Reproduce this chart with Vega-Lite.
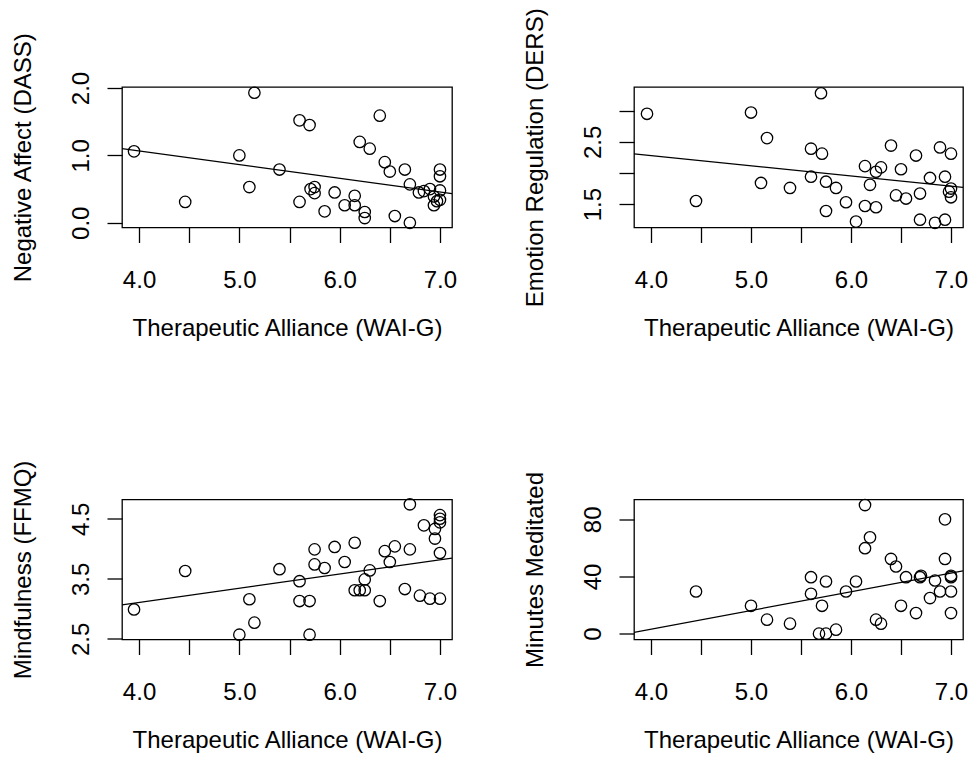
{
  "$schema": "https://vega.github.io/schema/vega-lite/v6.json",
  "background": "white",
  "padding": {"left": 10, "top": 7, "right": 5, "bottom": 5},
  "bounds": "flush",
  "columns": 2,
  "spacing": {"row": 271.5, "column": 182},
  "config": {
    "font": "Liberation Sans",
    "view": {"stroke": "black", "strokeWidth": 1.3, "fill": "white"},
    "axis": {
      "domain": false, "grid": false, "ticks": true, "tickSize": 15, "tickColor": "black", "tickWidth": 1.3,
      "labelFontSize": 24, "labelColor": "black", "labelFont": "Liberation Sans",
      "titleFontSize": 24, "titleFontWeight": "normal", "titleColor": "black", "titleFont": "Liberation Sans",
      "labelOverlap": false, "labelFlush": false
    },
    "axisX": {"labelPadding": 25.5, "titlePadding": 24, "labelBaseline": "top"},
    "axisY": {"labelAngle": -90, "labelPadding": 14, "titlePadding": 34, "labelAlign": "center", "labelBaseline": "bottom"}
  },
  "datasets": {
    "points": [
      {"measure": "DASS", "wai": 3.95, "score": 1.06},
      {"measure": "DASS", "wai": 4.46, "score": 0.31},
      {"measure": "DASS", "wai": 5.00, "score": 1.00},
      {"measure": "DASS", "wai": 5.15, "score": 1.93},
      {"measure": "DASS", "wai": 5.10, "score": 0.53},
      {"measure": "DASS", "wai": 5.40, "score": 0.79},
      {"measure": "DASS", "wai": 5.60, "score": 1.52},
      {"measure": "DASS", "wai": 5.70, "score": 1.45},
      {"measure": "DASS", "wai": 5.60, "score": 0.31},
      {"measure": "DASS", "wai": 5.71, "score": 0.50},
      {"measure": "DASS", "wai": 5.75, "score": 0.53},
      {"measure": "DASS", "wai": 5.75, "score": 0.44},
      {"measure": "DASS", "wai": 5.85, "score": 0.17},
      {"measure": "DASS", "wai": 5.95, "score": 0.45},
      {"measure": "DASS", "wai": 6.05, "score": 0.26},
      {"measure": "DASS", "wai": 6.15, "score": 0.40},
      {"measure": "DASS", "wai": 6.15, "score": 0.26},
      {"measure": "DASS", "wai": 6.20, "score": 1.20},
      {"measure": "DASS", "wai": 6.25, "score": 0.16},
      {"measure": "DASS", "wai": 6.25, "score": 0.07},
      {"measure": "DASS", "wai": 6.30, "score": 1.10},
      {"measure": "DASS", "wai": 6.40, "score": 1.59},
      {"measure": "DASS", "wai": 6.45, "score": 0.90},
      {"measure": "DASS", "wai": 6.50, "score": 0.76},
      {"measure": "DASS", "wai": 6.55, "score": 0.10},
      {"measure": "DASS", "wai": 6.65, "score": 0.79},
      {"measure": "DASS", "wai": 6.70, "score": 0.57},
      {"measure": "DASS", "wai": 6.70, "score": 0.00},
      {"measure": "DASS", "wai": 6.79, "score": 0.45},
      {"measure": "DASS", "wai": 6.84, "score": 0.47},
      {"measure": "DASS", "wai": 6.90, "score": 0.50},
      {"measure": "DASS", "wai": 6.94, "score": 0.39},
      {"measure": "DASS", "wai": 6.94, "score": 0.26},
      {"measure": "DASS", "wai": 7.00, "score": 0.79},
      {"measure": "DASS", "wai": 7.00, "score": 0.69},
      {"measure": "DASS", "wai": 7.00, "score": 0.48},
      {"measure": "DASS", "wai": 7.00, "score": 0.34},
      {"measure": "DASS", "wai": 6.97, "score": 0.32},
      {"measure": "DERS", "wai": 3.96, "score": 2.95},
      {"measure": "DERS", "wai": 4.45, "score": 1.55},
      {"measure": "DERS", "wai": 5.00, "score": 2.97},
      {"measure": "DERS", "wai": 5.16, "score": 2.56},
      {"measure": "DERS", "wai": 5.10, "score": 1.84},
      {"measure": "DERS", "wai": 5.39, "score": 1.76},
      {"measure": "DERS", "wai": 5.70, "score": 3.28},
      {"measure": "DERS", "wai": 5.60, "score": 2.39},
      {"measure": "DERS", "wai": 5.71, "score": 2.31},
      {"measure": "DERS", "wai": 5.60, "score": 1.94},
      {"measure": "DERS", "wai": 5.75, "score": 1.86},
      {"measure": "DERS", "wai": 5.75, "score": 1.39},
      {"measure": "DERS", "wai": 5.85, "score": 1.76},
      {"measure": "DERS", "wai": 5.95, "score": 1.53},
      {"measure": "DERS", "wai": 6.05, "score": 1.22},
      {"measure": "DERS", "wai": 6.14, "score": 2.11},
      {"measure": "DERS", "wai": 6.14, "score": 1.47},
      {"measure": "DERS", "wai": 6.19, "score": 1.81},
      {"measure": "DERS", "wai": 6.25, "score": 2.02},
      {"measure": "DERS", "wai": 6.25, "score": 1.45},
      {"measure": "DERS", "wai": 6.30, "score": 2.09},
      {"measure": "DERS", "wai": 6.40, "score": 2.44},
      {"measure": "DERS", "wai": 6.45, "score": 1.64},
      {"measure": "DERS", "wai": 6.50, "score": 2.06},
      {"measure": "DERS", "wai": 6.55, "score": 1.59},
      {"measure": "DERS", "wai": 6.65, "score": 2.28},
      {"measure": "DERS", "wai": 6.69, "score": 1.67},
      {"measure": "DERS", "wai": 6.69, "score": 1.25},
      {"measure": "DERS", "wai": 6.79, "score": 1.92},
      {"measure": "DERS", "wai": 6.84, "score": 1.20},
      {"measure": "DERS", "wai": 6.89, "score": 2.41},
      {"measure": "DERS", "wai": 6.94, "score": 1.94},
      {"measure": "DERS", "wai": 6.94, "score": 1.25},
      {"measure": "DERS", "wai": 7.00, "score": 2.31},
      {"measure": "DERS", "wai": 7.00, "score": 1.75},
      {"measure": "DERS", "wai": 7.00, "score": 1.61},
      {"measure": "DERS", "wai": 6.98, "score": 1.70},
      {"measure": "FFMQ", "wai": 3.95, "score": 2.99},
      {"measure": "FFMQ", "wai": 4.46, "score": 3.63},
      {"measure": "FFMQ", "wai": 5.00, "score": 2.57},
      {"measure": "FFMQ", "wai": 5.10, "score": 3.16},
      {"measure": "FFMQ", "wai": 5.15, "score": 2.77},
      {"measure": "FFMQ", "wai": 5.40, "score": 3.66},
      {"measure": "FFMQ", "wai": 5.60, "score": 3.46},
      {"measure": "FFMQ", "wai": 5.60, "score": 3.13},
      {"measure": "FFMQ", "wai": 5.70, "score": 3.13},
      {"measure": "FFMQ", "wai": 5.70, "score": 2.57},
      {"measure": "FFMQ", "wai": 5.75, "score": 3.99},
      {"measure": "FFMQ", "wai": 5.75, "score": 3.74},
      {"measure": "FFMQ", "wai": 5.85, "score": 3.68},
      {"measure": "FFMQ", "wai": 5.95, "score": 4.03},
      {"measure": "FFMQ", "wai": 6.05, "score": 3.78},
      {"measure": "FFMQ", "wai": 6.15, "score": 4.10},
      {"measure": "FFMQ", "wai": 6.15, "score": 3.31},
      {"measure": "FFMQ", "wai": 6.20, "score": 3.31},
      {"measure": "FFMQ", "wai": 6.25, "score": 3.31},
      {"measure": "FFMQ", "wai": 6.25, "score": 3.49},
      {"measure": "FFMQ", "wai": 6.30, "score": 3.64},
      {"measure": "FFMQ", "wai": 6.40, "score": 3.13},
      {"measure": "FFMQ", "wai": 6.45, "score": 3.96},
      {"measure": "FFMQ", "wai": 6.50, "score": 3.78},
      {"measure": "FFMQ", "wai": 6.55, "score": 4.04},
      {"measure": "FFMQ", "wai": 6.65, "score": 3.33},
      {"measure": "FFMQ", "wai": 6.70, "score": 3.99},
      {"measure": "FFMQ", "wai": 6.70, "score": 4.74},
      {"measure": "FFMQ", "wai": 6.80, "score": 3.22},
      {"measure": "FFMQ", "wai": 6.84, "score": 4.39},
      {"measure": "FFMQ", "wai": 6.90, "score": 3.17},
      {"measure": "FFMQ", "wai": 6.95, "score": 4.17},
      {"measure": "FFMQ", "wai": 6.95, "score": 4.33},
      {"measure": "FFMQ", "wai": 7.00, "score": 3.17},
      {"measure": "FFMQ", "wai": 7.00, "score": 3.93},
      {"measure": "FFMQ", "wai": 7.00, "score": 4.44},
      {"measure": "FFMQ", "wai": 7.00, "score": 4.56},
      {"measure": "FFMQ", "wai": 7.00, "score": 4.50},
      {"measure": "MIN", "wai": 4.45, "score": 29.5},
      {"measure": "MIN", "wai": 5.00, "score": 19.5},
      {"measure": "MIN", "wai": 5.16, "score": 9.8},
      {"measure": "MIN", "wai": 5.39, "score": 7.0},
      {"measure": "MIN", "wai": 5.60, "score": 39.5},
      {"measure": "MIN", "wai": 5.60, "score": 27.9},
      {"measure": "MIN", "wai": 5.71, "score": 19.5},
      {"measure": "MIN", "wai": 5.75, "score": 36.5},
      {"measure": "MIN", "wai": 5.68, "score": 0},
      {"measure": "MIN", "wai": 5.75, "score": 0},
      {"measure": "MIN", "wai": 5.85, "score": 2.8},
      {"measure": "MIN", "wai": 5.95, "score": 29.5},
      {"measure": "MIN", "wai": 6.05, "score": 36.5},
      {"measure": "MIN", "wai": 6.14, "score": 90},
      {"measure": "MIN", "wai": 6.14, "score": 59.8},
      {"measure": "MIN", "wai": 6.19, "score": 67.4},
      {"measure": "MIN", "wai": 6.25, "score": 9.8},
      {"measure": "MIN", "wai": 6.30, "score": 7.0},
      {"measure": "MIN", "wai": 6.40, "score": 52.3},
      {"measure": "MIN", "wai": 6.45, "score": 47.0},
      {"measure": "MIN", "wai": 6.50, "score": 19.5},
      {"measure": "MIN", "wai": 6.55, "score": 39.5},
      {"measure": "MIN", "wai": 6.65, "score": 14.4},
      {"measure": "MIN", "wai": 6.69, "score": 39.5},
      {"measure": "MIN", "wai": 6.70, "score": 40.5},
      {"measure": "MIN", "wai": 6.79, "score": 24.9},
      {"measure": "MIN", "wai": 6.84, "score": 37.2},
      {"measure": "MIN", "wai": 6.89, "score": 29.5},
      {"measure": "MIN", "wai": 6.94, "score": 80},
      {"measure": "MIN", "wai": 6.94, "score": 52.3},
      {"measure": "MIN", "wai": 7.00, "score": 39.5},
      {"measure": "MIN", "wai": 7.00, "score": 40.5},
      {"measure": "MIN", "wai": 7.00, "score": 29.5},
      {"measure": "MIN", "wai": 7.00, "score": 14.4}
    ],
    "fits": [
      {"measure": "DASS", "wai": 3.83, "score": 1.10},
      {"measure": "DASS", "wai": 7.12, "score": 0.434},
      {"measure": "DERS", "wai": 3.83, "score": 2.307},
      {"measure": "DERS", "wai": 7.12, "score": 1.770},
      {"measure": "FFMQ", "wai": 3.83, "score": 3.067},
      {"measure": "FFMQ", "wai": 7.12, "score": 3.843},
      {"measure": "MIN", "wai": 3.83, "score": 0.9},
      {"measure": "MIN", "wai": 7.12, "score": 43.9}
    ]
  },
  "concat": [
    {
      "width": 330, "height": 140.5,
      "layer": [
        {"data": {"name": "fits"}, "transform": [{"filter": "datum.measure == 'DASS'"}],
         "mark": {"type": "line", "color": "black", "strokeWidth": 1.2, "clip": true},
         "encoding": {"x": {"field": "wai", "type": "quantitative"}, "y": {"field": "score", "type": "quantitative"}}},
        {"data": {"name": "points"}, "transform": [{"filter": "datum.measure == 'DASS'"}],
         "mark": {"type": "point", "shape": "circle", "filled": false, "color": "black", "size": 130, "strokeWidth": 1.3, "opacity": 1},
         "encoding": {
           "x": {"field": "wai", "type": "quantitative", "title": "Therapeutic Alliance (WAI-G)",
                 "scale": {"domain": [3.83, 7.12], "nice": false, "zero": false},
                 "axis": {"values": [4, 4.5, 5, 5.5, 6, 6.5, 7], "labelExpr": "datum.value % 1 == 0 ? format(datum.value, '.1f') : ''"}},
           "y": {"field": "score", "type": "quantitative", "title": "Negative Affect (DASS)",
                 "scale": {"domain": [-0.07, 2.015], "nice": false, "zero": false},
                 "axis": {"values": [0, 0.5, 1, 1.5, 2], "labelExpr": "datum.value % 1 == 0 ? format(datum.value, '.1f') : ''"}}
         }}
      ]
    },
    {
      "width": 329, "height": 140.5,
      "layer": [
        {"data": {"name": "fits"}, "transform": [{"filter": "datum.measure == 'DERS'"}],
         "mark": {"type": "line", "color": "black", "strokeWidth": 1.2, "clip": true},
         "encoding": {"x": {"field": "wai", "type": "quantitative"}, "y": {"field": "score", "type": "quantitative"}}},
        {"data": {"name": "points"}, "transform": [{"filter": "datum.measure == 'DERS'"}],
         "mark": {"type": "point", "shape": "circle", "filled": false, "color": "black", "size": 130, "strokeWidth": 1.3, "opacity": 1},
         "encoding": {
           "x": {"field": "wai", "type": "quantitative", "title": "Therapeutic Alliance (WAI-G)",
                 "scale": {"domain": [3.83, 7.12], "nice": false, "zero": false},
                 "axis": {"values": [4, 4.5, 5, 5.5, 6, 6.5, 7], "labelExpr": "datum.value % 1 == 0 ? format(datum.value, '.1f') : ''"}},
           "y": {"field": "score", "type": "quantitative", "title": "Emotion Regulation (DERS)",
                 "scale": {"domain": [1.125, 3.38], "nice": false, "zero": false},
                 "axis": {"values": [1.5, 2, 2.5, 3], "labelExpr": "(datum.value == 1.5 || datum.value == 2.5) ? format(datum.value, '.1f') : ''"}}
         }}
      ]
    },
    {
      "width": 330, "height": 140,
      "layer": [
        {"data": {"name": "fits"}, "transform": [{"filter": "datum.measure == 'FFMQ'"}],
         "mark": {"type": "line", "color": "black", "strokeWidth": 1.2, "clip": true},
         "encoding": {"x": {"field": "wai", "type": "quantitative"}, "y": {"field": "score", "type": "quantitative"}}},
        {"data": {"name": "points"}, "transform": [{"filter": "datum.measure == 'FFMQ'"}],
         "mark": {"type": "point", "shape": "circle", "filled": false, "color": "black", "size": 130, "strokeWidth": 1.3, "opacity": 1},
         "encoding": {
           "x": {"field": "wai", "type": "quantitative", "title": "Therapeutic Alliance (WAI-G)",
                 "scale": {"domain": [3.83, 7.12], "nice": false, "zero": false},
                 "axis": {"values": [4, 4.5, 5, 5.5, 6, 6.5, 7], "labelExpr": "datum.value % 1 == 0 ? format(datum.value, '.1f') : ''"}},
           "y": {"field": "score", "type": "quantitative", "title": "Mindfulness (FFMQ)",
                 "scale": {"domain": [2.49, 4.82], "nice": false, "zero": false},
                 "axis": {"values": [2.5, 3, 3.5, 4, 4.5], "labelExpr": "(datum.value == 2.5 || datum.value == 3.5 || datum.value == 4.5) ? format(datum.value, '.1f') : ''"}}
         }}
      ]
    },
    {
      "width": 329, "height": 140,
      "layer": [
        {"data": {"name": "fits"}, "transform": [{"filter": "datum.measure == 'MIN'"}],
         "mark": {"type": "line", "color": "black", "strokeWidth": 1.2, "clip": true},
         "encoding": {"x": {"field": "wai", "type": "quantitative"}, "y": {"field": "score", "type": "quantitative"}}},
        {"data": {"name": "points"}, "transform": [{"filter": "datum.measure == 'MIN'"}],
         "mark": {"type": "point", "shape": "circle", "filled": false, "color": "black", "size": 130, "strokeWidth": 1.3, "opacity": 1},
         "encoding": {
           "x": {"field": "wai", "type": "quantitative", "title": "Therapeutic Alliance (WAI-G)",
                 "scale": {"domain": [3.83, 7.12], "nice": false, "zero": false},
                 "axis": {"values": [4, 4.5, 5, 5.5, 6, 6.5, 7], "labelExpr": "datum.value % 1 == 0 ? format(datum.value, '.1f') : ''"}},
           "y": {"field": "score", "type": "quantitative", "title": "Minutes Meditated",
                 "scale": {"domain": [-4.1, 93.9], "nice": false, "zero": false},
                 "axis": {"values": [0, 20, 40, 60, 80], "labelExpr": "(datum.value == 0 || datum.value == 40 || datum.value == 80) ? format(datum.value, 'd') : ''"}}
         }}
      ]
    }
  ]
}
